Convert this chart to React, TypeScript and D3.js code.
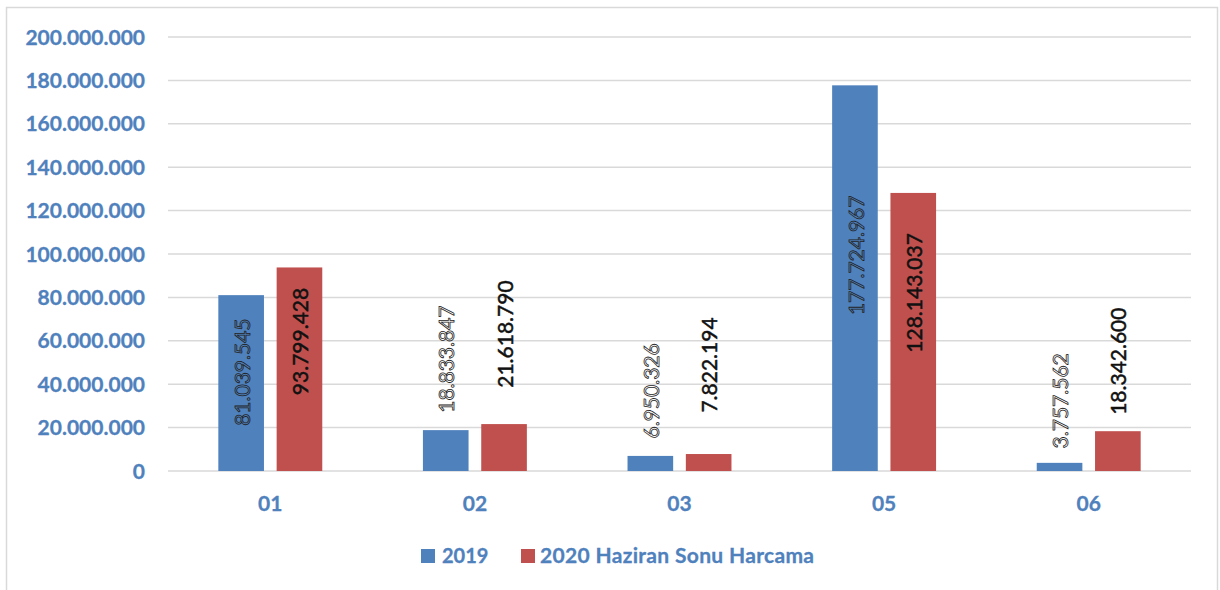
import React from "react";
import * as d3 from "d3";

const categories = ["01", "02", "03", "05", "06"];
const series2019 = [81039545, 18833847, 6950326, 177724967, 3757562];
const series2020 = [93799428, 21618790, 7822194, 128143037, 18342600];
const seriesNames = ["2019", "2020 Haziran Sonu Harcama"];
const yTicks = [0, 20000000, 40000000, 60000000, 80000000, 100000000, 120000000, 140000000, 160000000, 180000000, 200000000];

// layout tweaks: label centre offset (px) from the bar top
const labelShift2019 = [77, -71, -65, 170, -62];
const labelShift2020 = [74, -90, -89, 100, -70];

const W = 1220;
const H = 590;
const BLUE = "#4F81BD";
const RED = "#C0504D";
const AXIS_BLUE = "#4F81BD";
const GRID = "#D9D9D9";
const FONT = "Lato, 'Open Sans', sans-serif";

const fmt = (v: number) => {
  const s = Math.round(v).toString();
  return s.replace(/\B(?=(\d{3})+(?!\d))/g, ".");
};

export default function App() {
  const x0 = d3.scaleBand<string>().domain(categories).range([168, 1191]).paddingInner(0).paddingOuter(0);
  const y = d3.scaleLinear().domain([0, 200000000]).range([471, 37]);
  const bw = x0.bandwidth();
  const barW = bw * 0.223;
  const gap = bw * 0.062;
  const series = [series2019, series2020];
  const shifts = [labelShift2019, labelShift2020];
  const colors = [BLUE, RED];

  return (
    <svg width={W} height={H} style={{ position: "absolute", left: 0, top: 0, background: "#fff" }}>
      <rect x={6.5} y={7.5} width={1211} height={620} fill="#fff" stroke={GRID} strokeWidth={1.5} />
      {yTicks.map((t) => (
        <g key={t}>
          <line x1={168} x2={1191} y1={y(t)} y2={y(t)} stroke={GRID} strokeWidth={1.5} />
          <text x={145} y={y(t)} dy="0.36em" textAnchor="end" fill={AXIS_BLUE} stroke={AXIS_BLUE} strokeWidth={0.3} fontFamily={FONT} fontWeight="bold" fontSize={21}>
            {fmt(t)}
          </text>
        </g>
      ))}
      {categories.map((c, i) => {
        const cx = (x0(c) as number) + bw / 2;
        return (
          <g key={c}>
            {series.map((s, k) => {
              const bx = k === 0 ? cx - gap / 2 - barW : cx + gap / 2;
              const top = y(s[i]);
              const lx = bx + barW / 2 + 1;
              const ly = top + shifts[k][i];
              return (
                <g key={k}>
                  <rect x={bx} y={top} width={barW} height={y(0) - top} fill={colors[k]} />
                  <text
                    transform={`translate(${lx},${ly}) rotate(-90)`}
                    textAnchor="middle"
                    dy="0.36em"
                    fontFamily={FONT}
                    fontSize={21}
                    fill={k === 0 ? "none" : "#111"}
                    stroke={k === 0 ? "#222" : "#111"}
                    strokeWidth={k === 0 ? 0.8 : 0.5}
                  >
                    {fmt(s[i])}
                  </text>
                </g>
              );
            })}
            <text x={cx} y={511} textAnchor="middle" fill={AXIS_BLUE} stroke={AXIS_BLUE} strokeWidth={0.3} fontFamily={FONT} fontWeight="bold" fontSize={21}>
              {c}
            </text>
          </g>
        );
      })}
      <g>
        <rect x={421} y={549} width={14} height={14} fill={BLUE} />
        <text x={442} y={563} fill={AXIS_BLUE} stroke={AXIS_BLUE} strokeWidth={0.3} fontFamily={FONT} fontWeight="bold" fontSize={20}>
          {seriesNames[0]}
        </text>
        <rect x={521} y={549} width={14} height={14} fill={RED} />
        <text x={540} y={563} fill={AXIS_BLUE} stroke={AXIS_BLUE} strokeWidth={0.3} fontFamily={FONT} fontWeight="bold" fontSize={21} textLength={274} lengthAdjust="spacing">
          {seriesNames[1]}
        </text>
      </g>
    </svg>
  );
}
